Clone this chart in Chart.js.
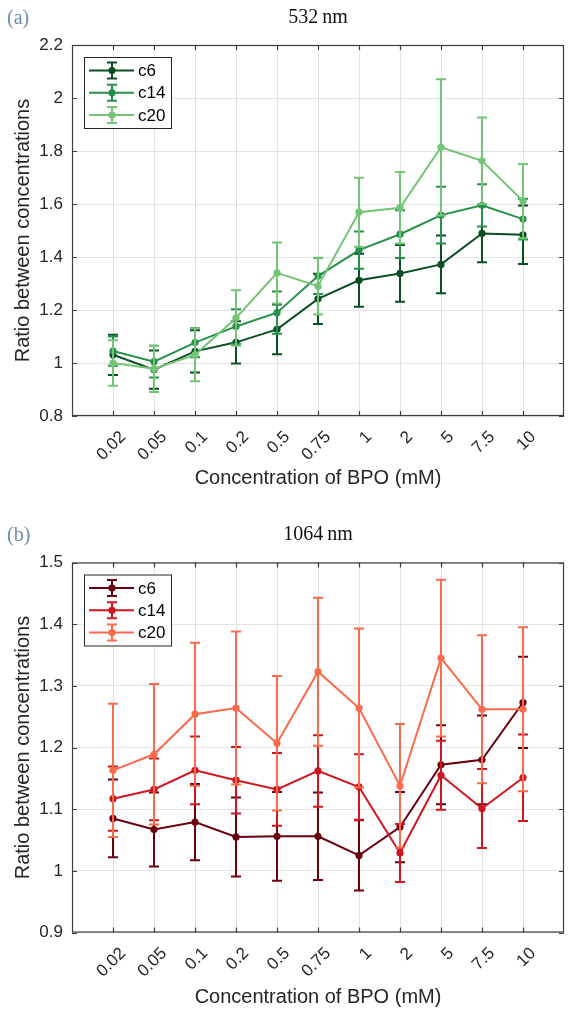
<!DOCTYPE html>
<html><head><meta charset="utf-8">
<script src="https://cdn.jsdelivr.net/npm/chart.js@4.4.1/dist/chart.umd.min.js"></script>
<style>
html,body{margin:0;padding:0;background:#fff;}
body{width:568px;height:1009px;position:relative;overflow:hidden;}
canvas{position:absolute;left:0;}
#ca{top:0;} #cb{top:500px;}
</style></head><body>
<canvas id="ca" width="568" height="500"></canvas>
<canvas id="cb" width="568" height="509"></canvas>
<script>
// ---- data ----
const categories = ['0.02','0.05','0.1','0.2','0.5','0.75','1','2','5','7.5','10'];
const seriesNames = ['c6','c14','c20'];

// (a) 532 nm
const a_c6      = [1.031, 0.975, 1.044, 1.078, 1.127, 1.242, 1.312, 1.338, 1.372, 1.489, 1.484];
const a_c6_err  = [0.076, 0.072, 0.080, 0.080, 0.094, 0.095, 0.100, 0.107, 0.109, 0.109, 0.110];
const a_c14     = [1.045, 1.005, 1.077, 1.138, 1.190, 1.328, 1.426, 1.486, 1.558, 1.595, 1.543];
const a_c14_err = [0.055, 0.060, 0.055, 0.065, 0.080, 0.068, 0.070, 0.090, 0.107, 0.080, 0.077];
const a_c20     = [1.000, 0.978, 1.031, 1.170, 1.340, 1.290, 1.569, 1.586, 1.814, 1.763, 1.611];
const a_c20_err = [0.086, 0.087, 0.100, 0.105, 0.115, 0.107, 0.130, 0.135, 0.257, 0.163, 0.140];
const a_yTicks  = [0.8, 1, 1.2, 1.4, 1.6, 1.8, 2, 2.2];

// (b) 1064 nm
const b_c6      = [1.085, 1.067, 1.079, 1.055, 1.056, 1.056, 1.025, 1.071, 1.172, 1.180, 1.273];
const b_c6_err  = [0.063, 0.060, 0.062, 0.064, 0.072, 0.071, 0.057, 0.057, 0.064, 0.072, 0.074];
const b_c14     = [1.117, 1.132, 1.163, 1.147, 1.132, 1.162, 1.136, 1.029, 1.155, 1.101, 1.151];
const b_c14_err = [0.052, 0.050, 0.055, 0.054, 0.059, 0.058, 0.053, 0.047, 0.056, 0.064, 0.070];
const b_c20     = [1.163, 1.189, 1.254, 1.264, 1.207, 1.323, 1.264, 1.138, 1.345, 1.262, 1.262];
const b_c20_err = [0.108, 0.114, 0.116, 0.124, 0.109, 0.120, 0.129, 0.100, 0.127, 0.120, 0.133];
const b_yTicks  = [0.9, 1, 1.1, 1.2, 1.3, 1.4, 1.5];

const greens = ['#0a4f24', '#26914a', '#74c476'];
const reds   = ['#6b000f', '#d0161f', '#fb6a4a'];

const SANS = "'Liberation Sans', Arial, sans-serif";
const SERIF = "'Liberation Serif', 'Times New Roman', serif";
const AXC = '#262626';

function decor(cfg) {
  return {
    id: 'decor',
    beforeDatasetDraw(chart, args) {
      const ds = chart.data.datasets[args.index];
      const meta = args.meta;
      const ys = chart.scales.y;
      const c = chart.ctx;
      c.save();
      c.strokeStyle = ds.borderColor;
      c.lineWidth = 2;
      meta.data.forEach((pt, i) => {
        const v = ds.data[i].y, e = ds.errors[i];
        const y1 = ys.getPixelForValue(v + e), y2 = ys.getPixelForValue(v - e);
        const x = pt.x;
        c.beginPath();
        c.moveTo(x, y1); c.lineTo(x, y2);
        c.moveTo(x - 5, y1); c.lineTo(x + 5, y1);
        c.moveTo(x - 5, y2); c.lineTo(x + 5, y2);
        c.stroke();
      });
      c.restore();
    },
    afterDraw(chart) {
      const c = chart.ctx, a = chart.chartArea;
      const xs = chart.scales.x, ys = chart.scales.y;
      c.save();
      // frame
      c.strokeStyle = '#3c3c3c';
      c.lineWidth = 1.2;
      c.strokeRect(a.left + 0.5, a.top + 0.5, a.right - a.left - 1, a.bottom - a.top - 1);
      c.beginPath();
      xs.ticks.forEach(t => {
        const x = Math.round(xs.getPixelForValue(t.value)) + 0.5;
        c.moveTo(x, a.bottom); c.lineTo(x, a.bottom - 5);
        c.moveTo(x, a.top); c.lineTo(x, a.top + 5);
      });
      ys.ticks.forEach(t => {
        const y = Math.round(ys.getPixelForValue(t.value)) + 0.5;
        c.moveTo(a.left, y); c.lineTo(a.left + 5, y);
        c.moveTo(a.right, y); c.lineTo(a.right - 5, y);
      });
      c.stroke();

      // legend
      const lx = a.left + 12, ly = a.top + 12, lw = 87, lh = 71;
      c.fillStyle = '#fff';
      c.fillRect(lx, ly, lw, lh);
      c.strokeStyle = AXC; c.lineWidth = 1;
      c.strokeRect(lx + 0.5, ly + 0.5, lw, lh);
      chart.data.datasets.forEach((ds, k) => {
        const yy = a.top + 25.5 + k * 22.3;
        const col = ds.borderColor;
        c.strokeStyle = col; c.fillStyle = col; c.lineWidth = 2;
        c.beginPath();
        c.moveTo(lx + 5, yy); c.lineTo(lx + 50, yy);
        const mx = lx + 28;
        c.moveTo(mx, yy - 8); c.lineTo(mx, yy + 8);
        c.moveTo(mx - 5, yy - 8); c.lineTo(mx + 5, yy - 8);
        c.moveTo(mx - 5, yy + 8); c.lineTo(mx + 5, yy + 8);
        c.stroke();
        c.beginPath(); c.arc(mx, yy, 3.6, 0, Math.PI * 2); c.fill();
        c.fillStyle = '#000';
        c.font = '17px ' + SANS;
        c.textBaseline = 'middle'; c.textAlign = 'left';
        c.fillText(ds.label, lx + 54, yy + 1);
      });

      // titles
      c.textBaseline = 'middle';
      c.font = '20px ' + SERIF;
      c.fillStyle = '#6d8db0';
      c.textAlign = 'left';
      c.fillText(cfg.panel, 7, cfg.titleY + 1);
      c.fillStyle = '#111';
      c.textAlign = 'center';
      c.fillText(cfg.title, (a.left + a.right) / 2, cfg.titleY);
      c.restore();
    }
  };
}

function makeChart(id, cfg) {
  const datasets = cfg.series.map((s, k) => ({
    label: seriesNames[k],
    data: s.values.map((v, i) => ({x: i + 1, y: v})),
    errors: s.errors,
    borderColor: cfg.colors[k],
    backgroundColor: cfg.colors[k],
    pointBackgroundColor: cfg.colors[k],
    pointBorderColor: cfg.colors[k],
    pointBorderWidth: 0,
    pointRadius: 3.6,
    borderWidth: 2,
    tension: 0,
    fill: false,
    order: 2 - k
  }));
  return new Chart(document.getElementById(id), {
    type: 'line',
    data: {datasets},
    options: {
      responsive: false, animation: false, devicePixelRatio: 1,
      layout: {padding: {top: cfg.plotTop, right: 1, left: 0, bottom: 0}},
      plugins: {legend: {display: false}, tooltip: {enabled: false}, title: {display: false}},
      scales: {
        x: {
          type: 'linear', min: 0, max: 12,
          afterBuildTicks: sc => { sc.ticks = categories.map((c, i) => ({value: i + 1})); },
          afterFit: sc => { sc.height = cfg.xAxisH; },
          ticks: {autoSkip: false, maxRotation: 45, minRotation: 45, padding: 11, labelOffset: 10, color: AXC,
                  font: {family: SANS, size: 17}, callback: v => categories[Math.round(v) - 1]},
          grid: {color: '#e2e2e2', drawTicks: false, lineWidth: 1},
          border: {display: false},
          title: {display: true, text: 'Concentration of BPO (mM)', color: AXC,
                  font: {family: SANS, size: 20}, padding: {top: 0, bottom: cfg.xTitlePad}}
        },
        y: {
          type: 'linear', min: cfg.yTicks[0], max: cfg.yTicks[cfg.yTicks.length - 1],
          afterBuildTicks: sc => { sc.ticks = cfg.yTicks.map(v => ({value: v})); },
          afterFit: sc => { sc.width = 72; },
          ticks: {padding: 9, color: AXC, font: {family: SANS, size: 17}, callback: v => String(v)},
          grid: {color: '#e2e2e2', drawTicks: false, lineWidth: 1},
          border: {display: false},
          title: {display: true, text: 'Ratio between concentrations', color: AXC,
                  font: {family: SANS, size: 20}, padding: {top: 11, bottom: 0}}
        }
      }
    },
    plugins: [decor(cfg)]
  });
}

makeChart('ca', {
  panel: '(a)', title: '532\u2009nm', titleY: 18,
  plotTop: 45, xAxisH: 84, xTitlePad: 10,
  colors: greens, yTicks: a_yTicks,
  series: [{values: a_c6, errors: a_c6_err}, {values: a_c14, errors: a_c14_err}, {values: a_c20, errors: a_c20_err}]
});
makeChart('cb', {
  panel: '(b)', title: '1064\u2009nm', titleY: 35,
  plotTop: 62.5, xAxisH: 76.5, xTitlePad: 0,
  colors: reds, yTicks: b_yTicks,
  series: [{values: b_c6, errors: b_c6_err}, {values: b_c14, errors: b_c14_err}, {values: b_c20, errors: b_c20_err}]
});
</script>
</body></html>
